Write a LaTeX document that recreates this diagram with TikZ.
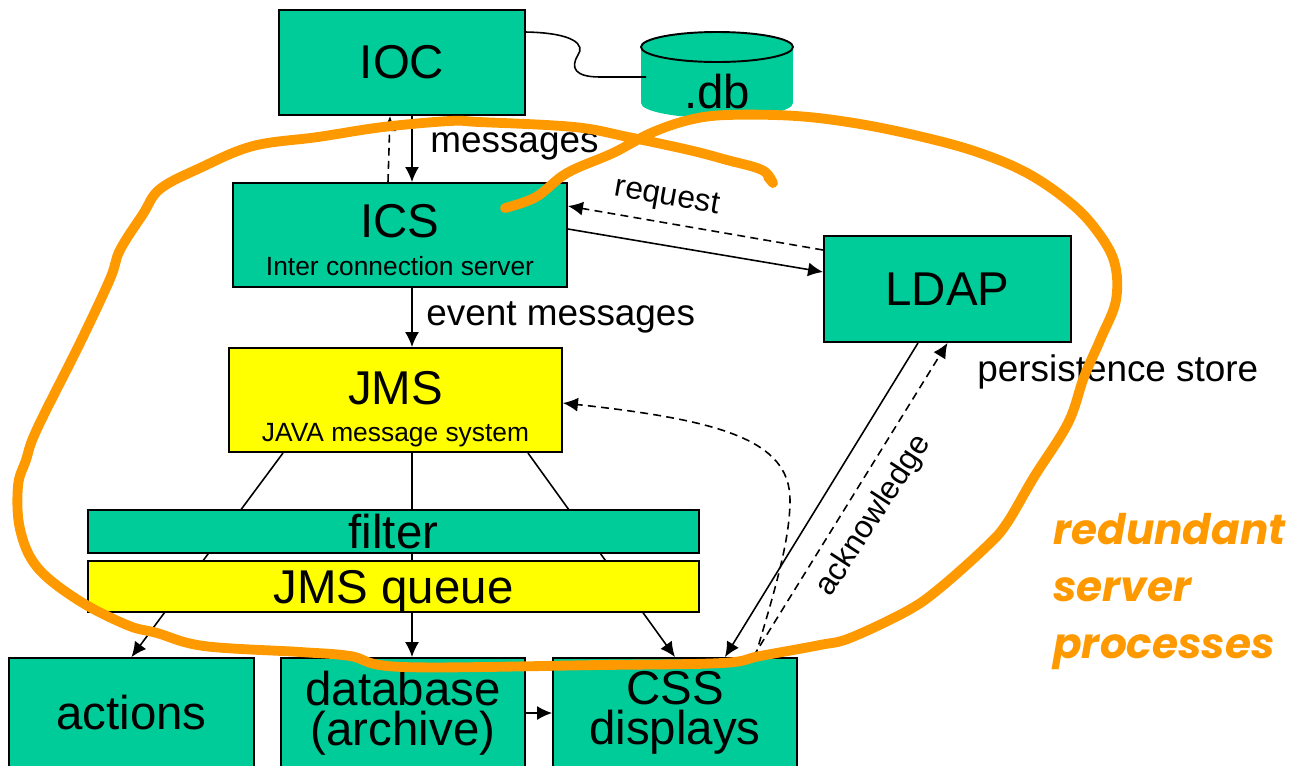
\documentclass[tikz,border=0pt]{standalone}
\usepackage{fontspec}
\setmainfont{Liberation Sans}
\newfontfamily\notefont{Poppins}
\usepackage{xcolor}
\usetikzlibrary{arrows.meta}

\definecolor{boxgreen}{RGB}{0,204,153}
\definecolor{boxyellow}{RGB}{255,255,0}
\definecolor{ringorange}{RGB}{255,153,0}

\newcommand{\bigfont}{\fontsize{27}{22.7}\selectfont}
\newcommand{\subfont}{\fontsize{15}{18}\selectfont}
\newcommand{\labelfont}{\fontsize{21}{25}\selectfont}
\newcommand{\tagfont}{\fontsize{18}{22}\selectfont}

\tikzset{
	greenbox/.style={draw=black, fill=boxgreen, line width=1.1pt, inner sep=0pt, align=center, font=\bigfont},
	yellowbox/.style={greenbox, fill=boxyellow},
	msg/.style={-{Latex[length=3mm,width=2.8mm]}, line width=0.9pt},
	dashmsg/.style={msg, dash pattern=on 4.5pt off 3pt},
	plain/.style={line width=0.9pt},
	textlabel/.style={font=\labelfont, anchor=base west, inner sep=0pt},
}

\begin{document}
\begin{tikzpicture}[x=0.02cm, y=-0.02cm]
	\useasboundingbox (0,0) rectangle (1292,765);
	\clip (0,0) rectangle (1292,765);
	\coordinate (spine) at (412,0);

	\node [greenbox, minimum width=4.92cm, minimum height=2.1cm] (ioc) at (402,62.5) {IOC};
	% database cylinder
	\fill [boxgreen] (641,47) -- (641,103) arc [start angle=180, end angle=360, x radius=1.52cm, y radius=0.3cm] -- (793,47) -- cycle;
	\draw [fill=boxgreen, line width=1.1pt] (717,47) ellipse [x radius=1.52cm, y radius=0.3cm];
	\node [font=\bigfont, anchor=base] (db) at (717,108) {.db};
	\coordinate (dbport) at (646,77);

	\node [greenbox, minimum width=6.68cm, minimum height=2.08cm] (ics) at (400,235) {};
	\node [font=\bigfont, anchor=base] (icstitle) at (400,237.5) {ICS};
	\node [font=\subfont, anchor=base] (icssub) at (400,275) {Inter connection server};
	\node [greenbox, minimum width=4.94cm, minimum height=2.12cm] (ldap) at (947.5,289) {LDAP};
	\node [yellowbox, minimum width=6.66cm, minimum height=2.08cm] (jms) at (395.5,400) {};
	\node [font=\bigfont, anchor=base] (jmstitle) at (395.5,404) {JMS};
	\node [font=\subfont, anchor=base] (jmssub) at (395.5,441) {JAVA message system};

	\node [greenbox, minimum width=4.9cm, minimum height=2.2cm] (actions) at (131.5,713) {actions};
	\node [greenbox, minimum width=4.88cm, minimum height=2.2cm] (database) at (403,713) {database\\(archive)};
	\node [greenbox, minimum width=4.88cm, minimum height=2.2cm] (css) at (675,713) {CSS\\displays};

	% JMS fan-out, behind filter and queue
	\draw [msg] ([xshift=1.1cm]jms.south west) to (actions.north);
	\draw [msg] (jms.south -| spine) to (database.north -| spine);
	\draw [msg] ([xshift=-0.7cm]jms.south east) to (css.north);

	\node [greenbox, minimum width=12.22cm, minimum height=0.86cm, text depth=0pt] (filter) at (393.5,531.5) {filter};
	\node [yellowbox, minimum width=12.22cm, minimum height=1.02cm, text depth=0pt] (queue) at (393.5,586.5) {JMS queue};

	% connectors
	\draw [plain] ([yshift=0.61cm]ioc.east) .. controls (575,33) and (585,45) .. (578,55) .. controls (570,68) and (575,77) .. (600,77) -- (dbport);
	\draw [dashmsg] ([xshift=-0.24cm]ics.north) to ([xshift=-0.24cm]ioc.south);
	\draw [msg] (ioc.south -| spine) to (ics.north -| spine);
	\draw [msg] (ics.south -| spine) to (jms.north -| spine);
	\draw [dashmsg] ([yshift=0.78cm]ldap.west) to ([yshift=0.58cm]ics.east);
	\draw [msg] ([yshift=0.12cm]ics.east) to ([yshift=0.34cm]ldap.west);
	\draw [msg] ([xshift=-0.59cm]ldap.south) to ([xshift=1cm]css.north);
	\draw [dashmsg] ([xshift=1.56cm]css.north) to (ldap.south);
	\draw [dashmsg] ([xshift=1.6cm]css.north) .. controls (775,590) and (790,540) .. (790,500) .. controls (790,440) and (720,420) .. ([yshift=-0.06cm]jms.east);
	\draw [msg] (database.east) to (css.west);

	% labels
	\node [textlabel] (msglabel) at (430,152) {messages};
	\node [textlabel] (evlabel) at (426,325) {event messages};
	\node [textlabel] (persist) at (977,381) {persistence store};
	\node [font=\tagfont, rotate=-10] (reqlabel) at (667,198) {request};
	\node [font=\tagfont, rotate=57] (acklabel) at (874,516) {acknowledge};

	% hand drawn ring
	\draw [ringorange, line width=5.6pt, line cap=round, line join=round] plot [smooth, tension=0.6] coordinates {
		(505,208) (536,197) (567,173) (613,153) (651,133) (689,120) (727,115) (796,116) (860,124)
		(927,138) (980,153) (1027,173) (1067,200) (1094,227) (1114,261) (1116,300) (1101,338)
		(1084,377) (1068,423) (1034,477) (1007,523) (987,546) (940,588) (907,611) (850,638)
		(820,645) (760,656) (722,663) (600,665) (403,667) (350,656) (300,652) (204,646)
		(157,633) (127,625) (78,600) (37,567) (20,529) (18,486) (26,460) (37,429) (80,343)
		(110,279) (120,250) (143,214) (160,189) (200,168) (253,146) (318,137) (383,127)
		(450,121) (479,122) (574,127) (628,137) (689,150) (727,160) (762,170) (773,183) (768,177)};
	\node [font=\notefont\bfseries\itshape\fontsize{24}{32.3}\selectfont, text=ringorange, align=left, anchor=north west, inner sep=0pt] (note) at (1053,513) {redundant\\server\\processes};
\end{tikzpicture}
\end{document}
